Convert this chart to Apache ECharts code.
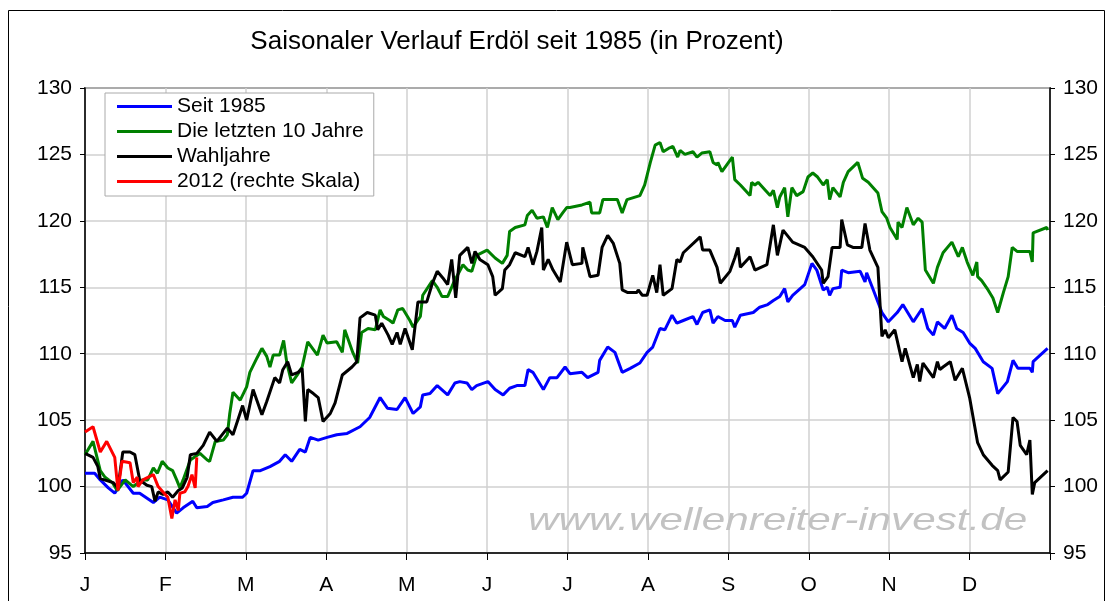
<!DOCTYPE html>
<html>
<head>
<meta charset="utf-8">
<script src="https://cdn.jsdelivr.net/npm/echarts@6/dist/echarts.min.js"></script>
<style>
html, body { margin: 0; padding: 0; background: #fff; }
#container1 { width: 1109px; height: 601px; }
</style>
</head>
<body>
<div id="container1"></div>
<script>
// month letters on the x axis (value axis 0..12, one unit per month)
var months = ['J', 'F', 'M', 'A', 'M', 'J', 'J', 'A', 'S', 'O', 'N', 'D'];
var yTicks = [95, 100, 105, 110, 115, 120, 125, 130];

// [month position, percent]
var seit1985 = [
  [0,101.0],[0.12,101.0],[0.19,100.5],[0.29,99.9],[0.37,99.5],[0.47,100.5],[0.60,99.5],[0.68,99.5],
  [0.85,98.8],[0.93,99.2],[1.03,99.0],[1.14,98.0],[1.22,98.4],[1.34,98.9],[1.39,98.4],[1.52,98.5],
  [1.59,98.8],[1.72,99.0],[1.84,99.2],[1.96,99.2],[2.01,99.5],[2.09,101.2],[2.18,101.2],[2.30,101.5],
  [2.42,101.9],[2.49,102.4],[2.57,101.9],[2.67,102.8],[2.74,102.6],[2.80,103.7],[2.90,103.5],[3.01,103.7],
  [3.13,103.9],[3.26,104.0],[3.42,104.5],[3.54,105.2],[3.67,106.7],[3.76,105.9],[3.88,105.8],[3.98,106.7],
  [4.08,105.5],[4.17,106.0],[4.20,106.9],[4.29,107.0],[4.38,107.6],[4.51,106.9],[4.60,107.8],[4.66,107.9],
  [4.75,107.8],[4.81,107.3],[4.87,107.6],[5.01,107.9],[5.10,107.3],[5.20,106.9],[5.28,107.4],[5.37,107.6],
  [5.47,107.6],[5.51,108.8],[5.57,108.6],[5.70,107.3],[5.78,108.2],[5.87,108.2],[5.97,109.0],[6.03,108.5],
  [6.18,108.6],[6.25,108.2],[6.38,108.6],[6.40,109.5],[6.50,110.5],[6.59,110.1],[6.68,108.6],[6.78,108.9],
  [6.90,109.3],[6.99,110.1],[7.06,110.5],[7.15,111.9],[7.21,111.8],[7.30,112.9],[7.36,112.3],[7.44,112.5],
  [7.56,112.8],[7.61,112.2],[7.68,113.1],[7.77,113.3],[7.81,112.3],[7.87,112.8],[7.96,112.5],[8.05,112.5],
  [8.08,112.0],[8.15,112.9],[8.31,113.1],[8.39,113.5],[8.49,113.7],[8.56,114.0],[8.64,114.3],[8.70,114.9],
  [8.74,113.9],[8.80,114.4],[8.95,115.2],[9.04,116.8],[9.10,116.3],[9.18,114.8],[9.23,115.0],[9.26,114.4],
  [9.30,114.9],[9.39,115.0],[9.41,116.3],[9.49,116.1],[9.64,116.2],[9.70,115.4],[9.72,116.1],[9.79,115.0],
  [9.91,113.1],[9.99,112.4],[10.10,113.1],[10.17,113.7],[10.30,112.4],[10.41,113.4],[10.48,111.9],[10.55,111.4],
  [10.60,112.4],[10.69,111.9],[10.78,112.9],[10.84,111.9],[10.92,111.6],[11.00,110.8],[11.07,110.4],[11.17,109.4],
  [11.28,108.9],[11.35,107.0],[11.47,107.9],[11.54,109.5],[11.60,108.9],[11.75,108.9],[11.78,108.6],[11.79,109.4],
  [11.97,110.4]
];

var letzte10 = [
  [0,102.4],[0.10,103.4],[0.19,101.2],[0.25,100.7],[0.34,100.3],[0.40,99.7],[0.50,100.5],[0.60,100.0],
  [0.71,100.5],[0.78,100.5],[0.85,101.4],[0.90,101.0],[0.96,101.9],[1.03,101.4],[1.09,101.2],[1.14,100.5],
  [1.18,99.9],[1.22,100.5],[1.31,102.0],[1.43,102.5],[1.52,102.0],[1.55,101.9],[1.62,103.4],[1.72,103.5],
  [1.77,103.9],[1.80,105.5],[1.84,107.1],[1.93,106.5],[2.01,107.5],[2.05,108.6],[2.14,109.7],[2.20,110.4],
  [2.26,109.8],[2.30,109.0],[2.34,109.9],[2.42,109.9],[2.47,111.0],[2.51,109.3],[2.57,107.8],[2.64,108.4],
  [2.70,109.0],[2.77,110.9],[2.89,109.9],[2.96,111.4],[3.01,110.8],[3.13,110.9],[3.20,110.1],[3.23,111.8],
  [3.33,110.1],[3.39,109.3],[3.44,111.6],[3.52,111.9],[3.61,111.8],[3.67,113.3],[3.71,112.8],[3.79,112.5],
  [3.83,112.3],[3.89,113.3],[3.95,113.4],[4.04,112.5],[4.08,112.0],[4.17,112.8],[4.20,114.4],[4.32,115.5],
  [4.38,115.0],[4.44,114.3],[4.51,114.3],[4.58,115.3],[4.70,116.7],[4.76,116.3],[4.81,116.2],[4.87,117.4],
  [5.00,117.8],[5.10,117.2],[5.19,116.8],[5.25,117.4],[5.28,119.2],[5.35,119.5],[5.47,119.7],[5.50,120.4],
  [5.56,120.8],[5.62,120.2],[5.70,120.3],[5.75,119.5],[5.81,121.0],[5.88,120.1],[5.94,120.6],[5.99,121.0],
  [6.03,121.0],[6.18,121.2],[6.28,121.4],[6.30,120.6],[6.40,120.6],[6.44,121.6],[6.62,121.6],[6.68,120.6],
  [6.74,121.6],[6.90,121.9],[6.96,122.7],[7.03,124.4],[7.09,125.7],[7.15,125.9],[7.19,125.2],[7.27,125.5],
  [7.31,125.6],[7.37,124.8],[7.40,125.3],[7.46,125.0],[7.56,125.2],[7.61,124.8],[7.67,125.1],[7.77,125.2],
  [7.81,124.4],[7.86,124.2],[7.87,124.4],[7.92,123.7],[8.05,124.8],[8.08,123.1],[8.15,122.7],[8.27,121.9],
  [8.29,122.9],[8.33,122.7],[8.37,122.9],[8.46,122.3],[8.52,121.9],[8.56,122.3],[8.61,121.0],[8.64,121.8],
  [8.70,122.5],[8.74,120.3],[8.79,122.5],[8.85,121.9],[8.93,122.2],[8.99,123.3],[9.05,123.6],[9.11,123.3],
  [9.18,122.7],[9.23,123.1],[9.26,121.6],[9.30,122.5],[9.39,121.8],[9.43,122.9],[9.49,123.7],[9.61,124.4],
  [9.67,123.2],[9.74,122.9],[9.86,122.1],[9.91,120.7],[9.97,120.2],[10.01,119.5],[10.10,118.6],[10.11,119.9],
  [10.16,119.5],[10.22,121.0],[10.30,119.7],[10.36,120.2],[10.41,119.9],[10.45,116.3],[10.55,115.3],[10.60,116.5],
  [10.67,117.6],[10.78,118.4],[10.86,117.3],[10.91,118.0],[10.97,116.9],[11.04,115.9],[11.09,116.9],[11.10,115.8],
  [11.15,115.5],[11.23,114.8],[11.29,114.2],[11.35,113.1],[11.42,114.6],[11.48,115.8],[11.53,118.0],[11.59,117.7],
  [11.75,117.7],[11.78,116.9],[11.79,119.1],[11.96,119.5],[11.97,119.3]
];

var wahljahre = [
  [0,102.5],[0.10,102.2],[0.16,101.5],[0.19,100.6],[0.35,100.3],[0.41,99.9],[0.47,102.6],[0.56,102.6],
  [0.62,102.4],[0.68,100.5],[0.77,100.1],[0.83,100.0],[0.87,98.9],[0.91,99.6],[0.97,99.4],[1.03,99.6],
  [1.09,99.2],[1.16,99.7],[1.21,99.9],[1.27,100.7],[1.31,102.4],[1.39,102.5],[1.47,103.1],[1.55,104.1],
  [1.64,103.4],[1.77,104.4],[1.84,103.9],[1.96,106.1],[2.01,105.0],[2.09,107.3],[2.20,105.4],[2.26,106.4],
  [2.36,108.2],[2.42,107.8],[2.46,108.8],[2.52,109.4],[2.57,108.4],[2.65,108.6],[2.70,108.9],[2.74,104.9],
  [2.77,107.3],[2.84,107.0],[2.90,106.7],[2.96,104.9],[3.05,105.5],[3.11,106.3],[3.20,108.4],[3.32,109.0],
  [3.38,109.4],[3.42,112.7],[3.51,113.1],[3.61,112.9],[3.64,111.8],[3.69,112.3],[3.77,111.4],[3.82,110.7],
  [3.88,111.6],[3.92,110.7],[3.98,111.9],[4.07,110.3],[4.14,113.9],[4.25,113.9],[4.32,115.3],[4.38,116.2],
  [4.45,115.7],[4.51,115.2],[4.56,117.1],[4.61,114.2],[4.66,117.4],[4.76,118.0],[4.81,116.8],[4.85,117.7],
  [4.91,117.1],[5.01,116.7],[5.07,115.8],[5.10,114.4],[5.19,114.9],[5.22,116.3],[5.28,116.7],[5.35,117.6],
  [5.47,117.3],[5.51,118.0],[5.57,116.7],[5.62,117.7],[5.68,119.5],[5.70,116.3],[5.76,117.1],[5.82,116.3],
  [5.91,115.4],[5.99,118.4],[6.06,116.7],[6.18,116.8],[6.19,118.0],[6.28,115.8],[6.38,115.9],[6.43,118.0],
  [6.50,118.9],[6.57,118.3],[6.65,116.8],[6.68,114.8],[6.75,114.6],[6.86,114.6],[6.88,114.8],[6.93,114.4],
  [6.99,114.4],[7.06,115.9],[7.11,114.6],[7.15,116.7],[7.19,114.4],[7.30,114.9],[7.36,117.1],[7.40,116.9],
  [7.44,117.6],[7.65,118.8],[7.68,117.8],[7.77,117.8],[7.86,116.5],[7.90,115.3],[8.02,116.2],[8.08,117.2],
  [8.12,118.0],[8.15,116.5],[8.27,117.3],[8.33,116.3],[8.48,116.7],[8.56,119.7],[8.61,117.4],[8.68,119.3],
  [8.80,118.4],[8.95,118.0],[9.05,117.3],[9.16,116.3],[9.18,115.3],[9.24,115.8],[9.29,118.0],[9.39,118.0],
  [9.41,120.1],[9.48,118.2],[9.55,118.0],[9.66,118.0],[9.70,119.8],[9.76,117.8],[9.86,116.5],[9.91,111.3],
  [9.95,111.8],[9.99,111.2],[10.07,111.8],[10.16,109.4],[10.20,110.4],[10.30,108.2],[10.35,109.2],[10.38,107.9],
  [10.42,109.3],[10.55,108.2],[10.60,109.4],[10.63,108.8],[10.67,109.0],[10.76,109.4],[10.82,108.0],[10.91,108.9],
  [11.00,106.7],[11.10,103.3],[11.17,102.4],[11.28,101.6],[11.35,101.2],[11.38,100.5],[11.48,101.1],[11.54,105.2],
  [11.59,104.9],[11.63,103.1],[11.71,102.4],[11.75,103.5],[11.78,99.4],[11.81,100.3],[11.97,101.2]
];

// 2012 (right scale)
var jahr2012 = [
  [0,104.1],[0.10,104.5],[0.19,102.6],[0.27,103.4],[0.37,102.2],[0.41,99.7],[0.46,101.9],[0.56,101.8],
  [0.60,100.3],[0.65,100.7],[0.66,100.0],[0.72,100.5],[0.85,100.9],[0.91,100.0],[0.97,99.6],[1.03,99.2],
  [1.08,97.6],[1.12,99.0],[1.16,98.2],[1.18,99.5],[1.24,99.6],[1.28,100.0],[1.33,100.9],[1.37,99.9],
  [1.39,102.2]
];

var font = "'Liberation Sans', Arial, sans-serif";
var dom = document.getElementById('container1');
var myChart = echarts.init(dom);

function yAxisDef(pos) {
  return {
    type: 'value',
    position: pos,
    min: yTicks[0],
    max: yTicks[yTicks.length - 1],
    interval: 5,
    axisLine: { show: true, lineStyle: { color: '#000', width: 1.5 } },
    axisTick: { show: true, length: 5, lineStyle: { color: '#000' } },
    axisLabel: { color: '#000', fontSize: 21, fontFamily: font, margin: 13 },
    splitLine: { show: pos === 'left', lineStyle: { color: '#d0d0d0', width: 1.5 } }
  };
}

function lineSeries(name, data, color, axis) {
  return {
    name: name,
    type: 'line',
    yAxisIndex: axis,
    data: data,
    showSymbol: false,
    symbol: 'none',
    lineStyle: { color: color, width: 3 },
    itemStyle: { color: color },
    z: 3
  };
}

var option = {
  animation: false,
  backgroundColor: '#fff',
  title: {
    text: 'Saisonaler Verlauf Erdöl seit 1985 (in Prozent)',
    left: 512,
    textAlign: 'center',
    top: 24,
    textStyle: { fontSize: 26, fontWeight: 'normal', color: '#000', fontFamily: font }
  },
  legend: {
    orient: 'vertical',
    left: 105,
    top: 93,
    padding: [3, 10, 4, 12],
    itemGap: 4,
    itemWidth: 55,
    itemHeight: 3,
    icon: 'rect',
    backgroundColor: '#fff',
    borderColor: '#aaa',
    borderWidth: 1,
    textStyle: { fontSize: 21, lineHeight: 20, color: '#000', fontFamily: font },
    data: ['Seit 1985', 'Die letzten 10 Jahre', 'Wahljahre', '2012 (rechte Skala)']
  },
  grid: {
    left: 85, right: 59, top: 88, bottom: 48,
    show: true, borderColor: '#000', borderWidth: 1.5
  },
  graphic: [
    {
      type: 'rect',
      shape: { x: 8.5, y: 10.5, width: 1096, height: 620 },
      style: { fill: 'none', stroke: '#000', lineWidth: 1 },
      silent: true
    },
    {
      type: 'text',
      x: 528,
      y: 505,
      scaleX: 1.32,
      z: 1,
      silent: true,
      style: {
        text: 'www.wellenreiter-invest.de',
        fill: '#c2c2c2',
        font: "italic 32px " + font
      }
    }
  ],
  xAxis: {
    type: 'value',
    min: 0,
    max: 12,
    interval: 1,
    axisLine: { show: true, onZero: false, lineStyle: { color: '#000', width: 1.5 } },
    axisTick: { show: true, length: 7, lineStyle: { color: '#000' } },
    axisLabel: {
      color: '#000', fontSize: 21, fontFamily: font, margin: 22,
      formatter: function (v) { return months[v] || ''; }
    },
    splitLine: { show: true, lineStyle: { color: '#d0d0d0', width: 1.5 } }
  },
  yAxis: [yAxisDef('left'), yAxisDef('right')],
  series: [
    lineSeries('Seit 1985', seit1985, '#0000ff', 0),
    lineSeries('Die letzten 10 Jahre', letzte10, '#008000', 0),
    lineSeries('Wahljahre', wahljahre, '#000000', 0),
    lineSeries('2012 (rechte Skala)', jahr2012, '#ff0000', 1)
  ]
};

if (option && typeof option === 'object') {
  myChart.setOption(option, true);
}
</script>
</body>
</html>
